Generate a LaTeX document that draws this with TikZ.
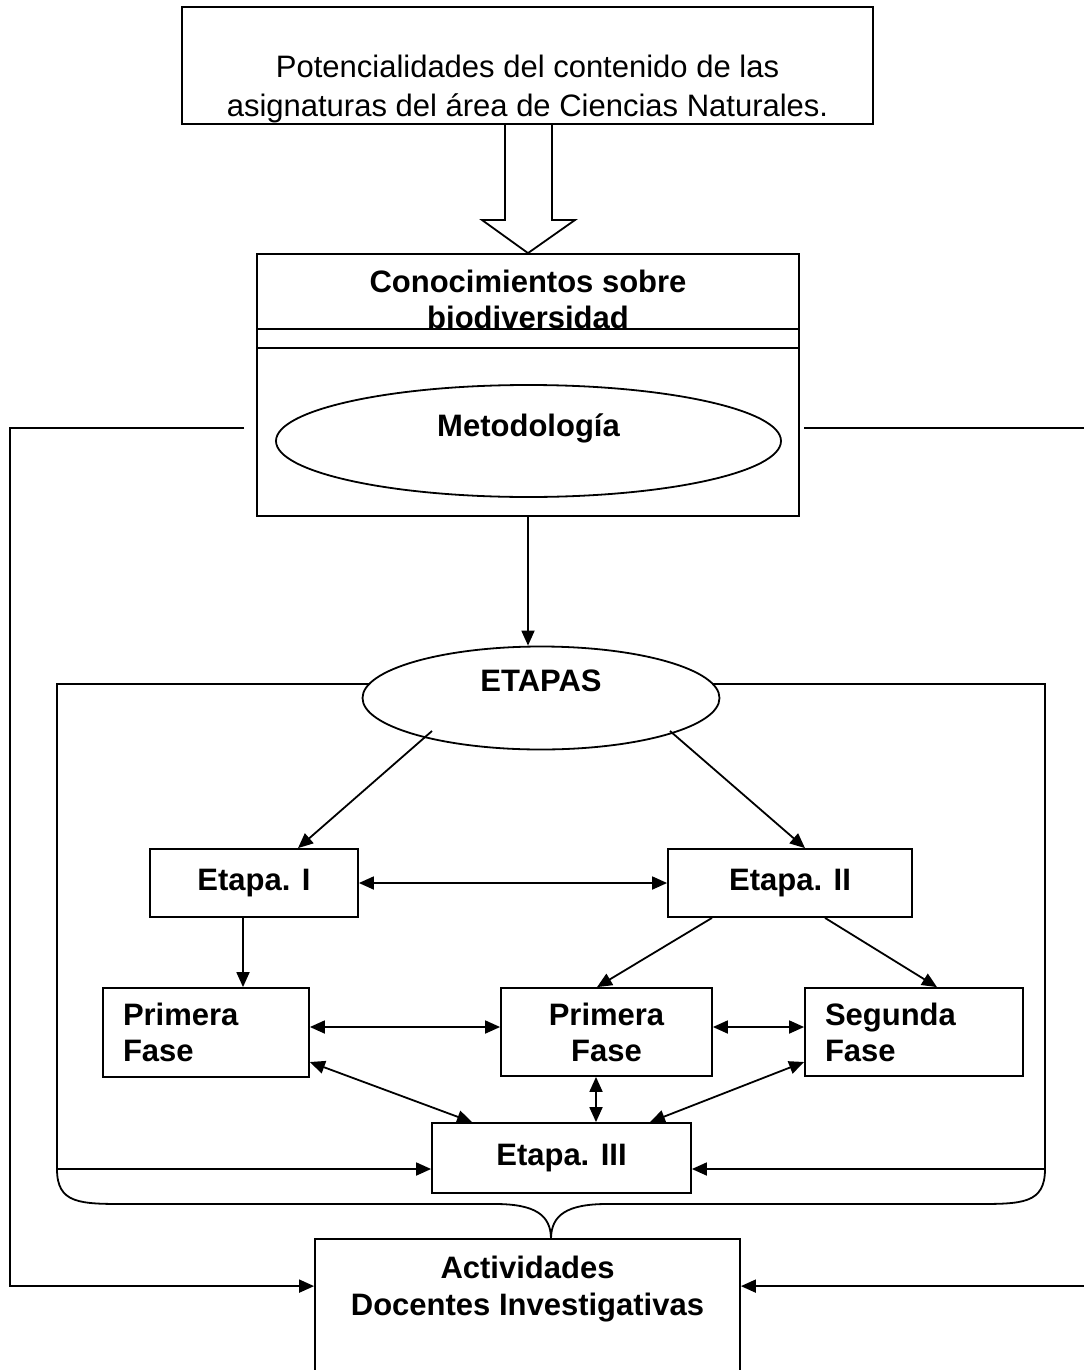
\documentclass[tikz,border=0pt]{standalone}
\usepackage{fontspec}
\setmainfont{Liberation Sans}
\usetikzlibrary{shapes.geometric,arrows.meta,calc}
\newcommand{\txtsize}{\fontsize{15.5}{18}\selectfont}

\begin{document}
\begin{tikzpicture}[x=0.5pt,y=-0.5pt,line width=0.9pt]
\tikzstyle{box}=[draw,rectangle,inner sep=0pt,font=\bfseries\txtsize,align=center]
\tikzstyle{fase}=[box,align=left,inner xsep=10pt]
\tikzstyle{oval}=[draw,ellipse,fill=white,inner sep=0pt]
\tikzstyle{arr}=[-{Triangle[length=7.5pt,width=6.5pt]}]
\tikzstyle{darr}=[{Triangle[length=7.5pt,width=6.5pt]}-{Triangle[length=7.5pt,width=6.5pt]}]
\useasboundingbox (0,0) rectangle (1083,1370);

\coordinate (fl) at (57,1169);
\coordinate (fr) at (1045,1169);
\draw (fl) -- (57,684) -- (1045,684) -- (fr);
\draw (fl) .. controls (57,1204) and (80,1204) .. (127,1204) -- (495,1204)
  .. controls (535,1204) and (551,1215) .. (551,1239);
\draw (fr) .. controls (1045,1204) and (1022,1204) .. (975,1204) -- (607,1204)
  .. controls (567,1204) and (551,1215) .. (551,1239);

\node[box,minimum width=345.5pt,minimum height=58.5pt,path picture={
  \node[font=\fontsize{15.5}{19.5}\selectfont,align=center,anchor=base]
    at ($(path picture bounding box.north)+(0,-55pt)$)
    {Potencialidades del contenido de las\\asignaturas del área de Ciencias Naturales.};}]
  at (527.5,65.5) (pot) {};
\node[box,minimum width=271pt,minimum height=131pt] at (528,385) (con) {};
\node[box,minimum width=271pt,minimum height=37.5pt,path picture={
  \node[font=\bfseries\txtsize,align=center,anchor=base]
    at ($(path picture bounding box.north)+(0,-37pt)$)
    {Conocimientos sobre\\biodiversidad};}]
  at (528,291.5) (contop) {};
\draw (257,348) -- (799,348);
\node[oval,minimum width=252.5pt,minimum height=56pt,
  label={[font=\bfseries\txtsize,yshift=6.5pt]center:Metodología}] at (528.5,441) (met) {};

\draw (pot.south -| 505,0) -- (505,220) -- (482,220) -- (con.north) -- (575,220)
  -- (552,220) -- (pot.south -| 552,0);

\node[oval,minimum width=178.5pt,minimum height=51.5pt,
  label={[font=\bfseries\txtsize,yshift=8.5pt]center:ETAPAS}] at (541,698) (et) {};
\draw[arr] (con.south) -- (con.south |- et.north);

\node[box,minimum width=104pt,minimum height=34pt] at (254,883) (e1) {Etapa. I};
\node[box,minimum width=122pt,minimum height=34pt] at (790,883) (e2) {Etapa. II};
\node[fase,text width=83pt,minimum height=44.5pt] at (206,1032.5) (p1) {Primera\\Fase};
\node[box,minimum width=105.5pt,minimum height=44pt] at (606.5,1032) (p2) {Primera\\Fase};
\node[fase,text width=89pt,minimum height=44pt] at (914,1032) (s2) {Segunda\\Fase};
\node[box,minimum width=129.5pt,minimum height=35pt] at (561.5,1158) (e3) {Etapa. III};
\node[box,minimum width=212.5pt,minimum height=80.5pt] at (527.5,1319.5) (act) {};
\node[font=\bfseries\fontsize{15.5}{18.5}\selectfont,align=center,anchor=base]
  at (527.5,1315) (acttxt) {Actividades\\Docentes Investigativas};

\coordinate (el) at (432,731);
\coordinate (er) at (670,731);
\coordinate (ml) at (244,428);
\coordinate (mr) at (804,428);

\draw[arr] (el) -- (e1.north -| 298,0);
\draw[arr] (er) -- (e2.north -| 805,0);
\draw[darr] (e1.east) -- (e2.west);
\draw[arr] (e1.south -| 243,0) -- (p1.north -| 243,0);
\draw[arr] (e2.south -| 712,0) -- (p2.north -| 597,0);
\draw[arr] (e2.south -| 825,0) -- (s2.north -| 937,0);
\draw[darr] (p1.east |- 0,1027) -- (p2.west |- 0,1027);
\draw[darr] (p2.east |- 0,1027) -- (s2.west |- 0,1027);
\draw[darr] (p1.east |- 0,1062) -- (e3.north -| 472,0);
\draw[darr] (p2.south -| 596,0) -- (e3.north -| 596,0);
\draw[darr] (s2.west |- 0,1062) -- (e3.north -| 650,0);
\draw[arr] (fl) -- (fl -| e3.west);
\draw[arr] (fr) -- (fr -| e3.east);
\draw[arr] (ml) -- (10,428) |- ($(act.north west)+(0,48)$);
\draw[arr] (mr) -- (1095,428) |- ($(act.north east)+(0,48)$);
\end{tikzpicture}
\end{document}
